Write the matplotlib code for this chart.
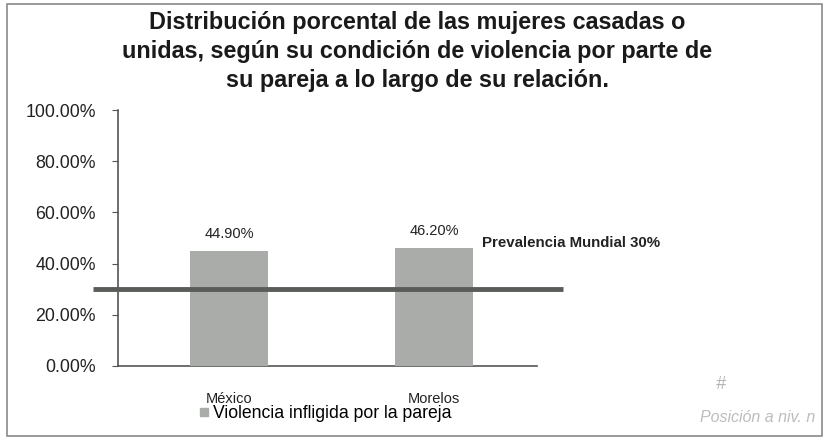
import matplotlib
matplotlib.use("Agg")
import matplotlib.pyplot as plt
from matplotlib.patches import Rectangle
from matplotlib.lines import Line2D

plt.rcParams['font.family'] = ['Liberation Sans', 'DejaVu Sans']

categories = ['México', 'Morelos']
values = [44.90, 46.20]
value_labels = ['44.90%', '46.20%']
prevalencia = 30.0
yticks = [0, 20, 40, 60, 80, 100]
ytick_labels = ['0.00%', '20.00%', '40.00%', '60.00%', '80.00%', '100.00%']

title = ('Distribución porcental de las mujeres casadas o\n'
         'unidas, según su condición de violencia por parte de\n'
         'su pareja a lo largo de su relación.')

bar_color = '#a9aca9'
line_color = '#5a5c5a'

fig = plt.figure(figsize=(8.28, 4.42), dpi=100)
fig.patch.set_facecolor('white')
# frame around the chart
fig.patches.append(Rectangle((0.009, 0.014), 0.984, 0.978, transform=fig.transFigure,
                             fill=False, edgecolor='#8a8a8a', linewidth=1.2))

ax = fig.add_axes([0.1425, 0.172, 0.506, 0.579])
x = list(range(len(categories)))
bars = ax.bar(x, values, width=0.38, color=bar_color, zorder=3)
ax.set_xlim(-0.54, 1.5)
ax.set_ylim(0, 100)

for xi, v, lab in zip(x, values, value_labels):
    ax.text(xi, v + 4, lab, ha='center', va='bottom', fontsize=10.5, color='#222222')

ax.set_yticks(yticks)
ax.set_yticklabels(ytick_labels, fontsize=12.8, color='#222222')
ax.set_xticks(x)
ax.set_xticklabels(categories, fontsize=10.5, color='#222222')
ax.tick_params(axis='x', length=0, pad=19)
ax.tick_params(axis='y', length=4, direction='out', color='#555555', pad=12)
for s in ['top', 'right']:
    ax.spines[s].set_visible(False)
ax.spines['left'].set_color('#555555')
ax.spines['bottom'].set_color('#555555')
ax.spines['left'].set_linewidth(1.2)
ax.spines['bottom'].set_linewidth(1.2)

# world prevalence line, spilling past the plot area
x0 = -0.06
x1 = (563 - 118) / 419
ax.plot([x0, x1], [prevalencia, prevalencia], transform=ax.get_yaxis_transform(),
        color=line_color, lw=3.5, zorder=4, clip_on=False, solid_capstyle='butt')
ax.text((482 - 118) / 419, prevalencia + 18, 'Prevalencia Mundial 30%',
        transform=ax.get_yaxis_transform(), fontsize=10.8, fontweight='bold',
        color='#222222', ha='left', va='center')

fig.text(0.504, 0.975, title, ha='center', va='top', fontsize=16.8,
         fontweight='bold', linespacing=1.33, color='#1a1a1a')

handle = Line2D([], [], marker='s', color=bar_color, linestyle='None', markersize=6)
fig.legend([handle], ['Violencia infligida por la pareja'], loc='center',
           bbox_to_anchor=(0.392, 0.065), frameon=False, fontsize=12.7,
           handletextpad=0.1, borderpad=0, handlelength=0.8)

# handwritten note on the scan
fig.text(0.87, 0.12, '#', fontsize=13, color='#b5b5b5', ha='center', style='italic')
fig.text(0.985, 0.045, 'Posición a niv. n', fontsize=11.5, color='#bdbdbd',
         style='italic', ha='right')

fig.savefig('out.png', dpi=100)
